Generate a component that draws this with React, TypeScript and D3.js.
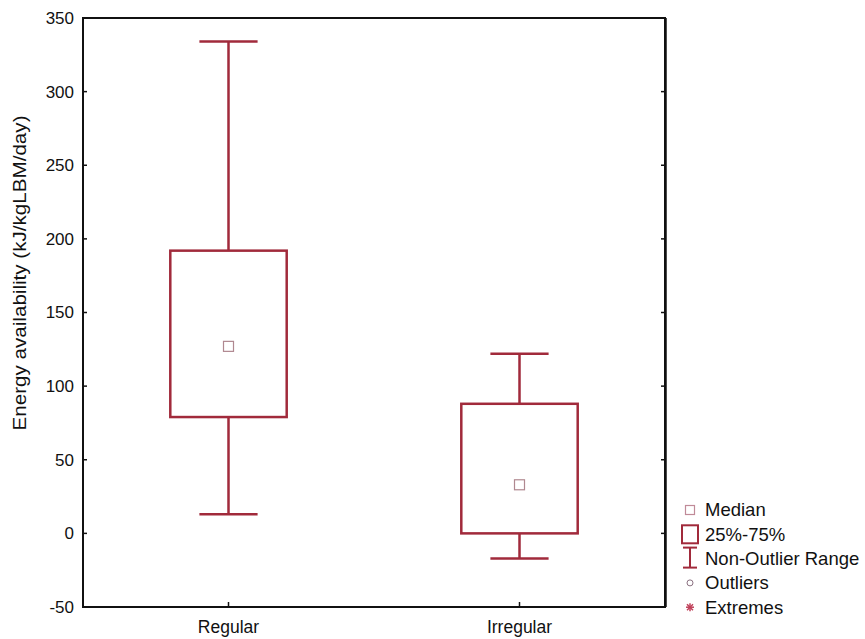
import * as d3 from "d3";

const categories = ["Regular", "Irregular"];
const whiskerLow = [13, -17];
const q1 = [79, 0];
const median = [127, 33];
const q3 = [192, 88];
const whiskerHigh = [334, 122];
const yTicks = [-50, 0, 50, 100, 150, 200, 250, 300, 350];
const legendItems = ["Median", "25%-75%", "Non-Outlier Range", "Outliers", "Extremes"];

const W = 865;
const H = 639;
const margin = { top: 18, right: 200, bottom: 32, left: 83 };
const boxColor = "#a12a3b";
const font = "'Liberation Sans', Arial, sans-serif";

export default function App() {
  const x = d3
    .scalePoint()
    .domain(categories)
    .range([margin.left, W - margin.right])
    .padding(0.5);
  const y = d3
    .scaleLinear()
    .domain([-50, 350])
    .range([H - margin.bottom, margin.top]);

  const plotW = W - margin.right - margin.left;
  const boxW = plotW * 0.2;
  const capW = boxW / 2;
  const left = margin.left;
  const right = W - margin.right;
  const top = margin.top;
  const bottom = H - margin.bottom;

  return (
    <svg
      width={W}
      height={H}
      style={{ position: "absolute", left: 0, top: 0, background: "#fff" }}
      fontFamily={font}
    >
      {/* frame */}
      <rect x={left} y={top} width={plotW} height={bottom - top} fill="none" stroke="#111" strokeWidth={2} />
      <line x1={right + 1} x2={right + 1} y1={top} y2={bottom} stroke="#111" strokeWidth={1.5} />

      {/* y ticks */}
      {yTicks.map((t) => (
        <g key={t}>
          <line x1={left} x2={left + 4} y1={y(t)} y2={y(t)} stroke="#111" strokeWidth={1.5} />
          <line x1={right - 4} x2={right} y1={y(t)} y2={y(t)} stroke="#111" strokeWidth={1.5} />
          <text x={left - 9} y={y(t)} dy="0.35em" textAnchor="end" fontSize={17} fill="#111">
            {t}
          </text>
        </g>
      ))}

      {/* x ticks */}
      {categories.map((c) => (
        <g key={c}>
          <line x1={x(c)} x2={x(c)} y1={bottom} y2={bottom - 5} stroke="#111" strokeWidth={1.5} />
          <text x={x(c)} y={bottom + 26} textAnchor="middle" fontSize={17.5} fill="#111">
            {c}
          </text>
        </g>
      ))}

      {/* y title */}
      <text
        transform={`translate(26, 273) rotate(-90)`}
        textAnchor="middle"
        fontSize={17.5}
        textLength={315}
        lengthAdjust="spacingAndGlyphs"
        fill="#111"
      >
        Energy availability (kJ/kgLBM/day)
      </text>

      {/* boxes */}
      {categories.map((c, i) => {
        const cx = x(c) as number;
        return (
          <g key={c} stroke={boxColor} strokeWidth={2.5} fill="none">
            <line x1={cx} x2={cx} y1={y(whiskerHigh[i])} y2={y(q3[i])} />
            <line x1={cx} x2={cx} y1={y(q1[i])} y2={y(whiskerLow[i])} />
            <line x1={cx - capW / 2} x2={cx + capW / 2} y1={y(whiskerHigh[i])} y2={y(whiskerHigh[i])} />
            <line x1={cx - capW / 2} x2={cx + capW / 2} y1={y(whiskerLow[i])} y2={y(whiskerLow[i])} />
            <rect x={cx - boxW / 2} y={y(q3[i])} width={boxW} height={y(q1[i]) - y(q3[i])} />
            <rect
              x={cx - 5}
              y={y(median[i]) - 5}
              width={10}
              height={10}
              stroke="#b08890"
              strokeWidth={1.2}
            />
          </g>
        );
      })}

      {/* legend */}
      <g transform="translate(690, 0)">
        {legendItems.map((item, i) => {
          const ly = 510 + i * 24.3;
          return (
            <g key={item}>
              {i === 0 && (
                <rect x={-4.5} y={ly - 4.5} width={9} height={9} fill="none" stroke="#c08a98" strokeWidth={1.2} />
              )}
              {i === 1 && (
                <rect x={-8} y={ly - 9} width={16} height={18} fill="none" stroke={boxColor} strokeWidth={2} />
              )}
              {i === 2 && (
                <g stroke={boxColor} strokeWidth={2}>
                  <line x1={-7} x2={7} y1={ly - 11} y2={ly - 11} />
                  <line x1={0} x2={0} y1={ly - 11} y2={ly + 9} />
                  <line x1={-7} x2={7} y1={ly + 9} y2={ly + 9} />
                </g>
              )}
              {i === 3 && <circle cx={0} cy={ly} r={3} fill="none" stroke="#8a7080" strokeWidth={1} />}
              {i === 4 && (
                <g stroke="#c0405a" strokeWidth={1.5}>
                  <line x1={-4} x2={4} y1={ly} y2={ly} />
                  <line x1={0} x2={0} y1={ly - 4} y2={ly + 4} />
                  <line x1={-3} x2={3} y1={ly - 3} y2={ly + 3} />
                  <line x1={-3} x2={3} y1={ly + 3} y2={ly - 3} />
                </g>
              )}
              <text x={15} y={ly} dy="0.35em" fontSize={18.5} fill="#111">
                {item}
              </text>
            </g>
          );
        })}
      </g>
    </svg>
  );
}
